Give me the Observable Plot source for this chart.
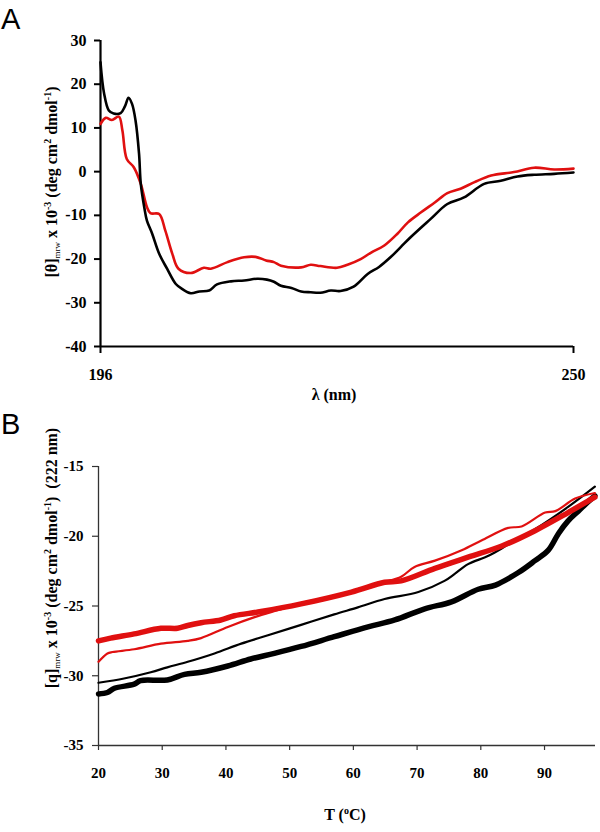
<!DOCTYPE html>
<html><head><meta charset="utf-8">
<script src="https://cdn.jsdelivr.net/npm/d3@7"></script>
<script src="https://cdn.jsdelivr.net/npm/@observablehq/plot@0.6"></script>
<style>
body{margin:0;background:#fff;}
#wrap{position:relative;width:600px;height:832px;overflow:hidden;background:#fff;}
.panel{position:absolute;left:0;}
.letter{position:absolute;font-family:"Liberation Sans",Arial,sans-serif;font-size:29px;line-height:1;color:#000;}
</style></head><body>
<div id="wrap">
  <div id="panelA" class="panel" style="top:0"></div>
  <div id="panelB" class="panel" style="top:415px"></div>
  <div class="letter" style="left:1px;top:5px">A</div>
  <div class="letter" style="left:1px;top:410px">B</div>
</div>
<script>
// ---------- Panel A: CD spectra ----------
const lambdaBlack = [196.0,196.4,196.95,197.5,198.3,198.8,199.2,199.6,200.0,200.4,200.6,201.0,201.3,201.9,202.7,203.6,204.6,205.3,206.3,207.3,208.4,209.3,210.9,212.4,213.9,215.0,215.8,216.6,217.8,218.9,220.0,221.1,222.3,223.4,224.9,226.5,227.8,229.1,230.3,231.4,233.7,235.6,237.5,239.8,241.7,243.6,245.5,247.8,250.0];
const thetaBlack  = [25,18,14,13.3,13.4,15,16.9,15.5,11.7,4.1,-2.8,-8.2,-11.2,-14.2,-18.8,-22.2,-25.7,-26.8,-27.8,-27.4,-27.2,-25.8,-25.1,-24.9,-24.5,-24.7,-25.2,-26.1,-26.6,-27.4,-27.6,-27.7,-27.2,-27.3,-26.3,-23.4,-21.8,-19.6,-17.2,-15.0,-10.8,-7.4,-5.9,-2.8,-2.1,-1.1,-0.7,-0.5,-0.2];
const lambdaRed = [196.0,196.6,197.3,198.1,198.5,199.0,199.8,200.6,201.3,201.7,202.7,203.4,204.2,204.9,206.3,207.8,208.6,210.5,212.4,213.7,214.9,215.8,216.6,218.9,220.0,221.1,223.0,224.2,225.7,226.9,228.4,229.9,231.1,232.6,234.2,235.6,237.1,238.7,240.6,243.2,245.5,247.8,250.0];
const thetaRed  = [10.9,12.3,11.8,12.6,9.4,2.9,1.0,-2.8,-8.1,-9.5,-9.7,-13.5,-18.8,-22.2,-23.2,-22.0,-22.2,-20.7,-19.6,-19.5,-20.3,-20.7,-21.5,-21.9,-21.3,-21.6,-22.0,-21.3,-20.0,-18.5,-16.9,-14.2,-11.6,-9.3,-7.0,-4.9,-3.9,-2.4,-0.9,-0.1,0.9,0.5,0.7];
const yTicksA = [-40,-30,-20,-10,0,10,20,30];
const xTicksA = [196,250];

// ---------- Panel B: thermal melts at 222 nm ----------
const tempThickRed = [20,21.9,25.6,29.8,32.4,34,36.1,39.2,41.3,45.5,51.8,59.7,64.9,67.5,72.8,78,83.3,88.5,93.7,97.9];
const valThickRed  = [-27.5,-27.3,-27.0,-26.6,-26.6,-26.4,-26.2,-26.0,-25.7,-25.4,-24.85,-24.0,-23.3,-23.2,-22.3,-21.5,-20.7,-19.6,-18.3,-17.2];
const tempThinRed = [20,21.4,22.2,25.6,29.8,34,36.1,40.3,44.5,48.1,51.8,59.7,64.9,67.5,69.6,72.8,77,80.1,84.3,86.4,90.1,91.7,94.8,97.9];
const valThinRed  = [-29.0,-28.4,-28.3,-28.1,-27.7,-27.5,-27.3,-26.5,-25.8,-25.3,-24.8,-24.0,-23.3,-22.9,-22.2,-21.75,-21.0,-20.3,-19.4,-19.3,-18.3,-18.2,-17.3,-16.9];
const tempThinBlack = [20,24,28.2,30.8,34,38.2,42.4,46.6,51.8,57,60.7,64.9,70.2,74.3,75.9,78,81.2,84.3,88.5,93.7,97.9];
const valThinBlack  = [-30.5,-30.2,-29.75,-29.4,-29.0,-28.4,-27.7,-27.1,-26.35,-25.6,-25.1,-24.5,-24.0,-23.2,-22.7,-22.0,-21.4,-20.6,-19.5,-17.9,-16.45];
const tempThickBlack = [20,21.4,22.5,25.6,26.6,30.8,33.5,36.1,40.3,43.9,47.6,51.8,57,62.3,66.5,71.2,75.4,79.6,82.3,85.9,88.5,90.6,92.2,93.7,95.3,96.9,97.9];
const valThickBlack  = [-31.3,-31.2,-30.9,-30.6,-30.35,-30.3,-29.9,-29.75,-29.3,-28.8,-28.4,-27.9,-27.2,-26.5,-26.0,-25.2,-24.7,-23.8,-23.5,-22.6,-21.75,-21.0,-19.8,-18.9,-18.2,-17.5,-17.1];
const yTicksB = [-35,-30,-25,-20,-15];
const xTicksB = [20,30,40,50,60,70,80,90];

const zip = (xs, ys) => xs.map((x, i) => ({x, y: ys[i]}));
const RED = "#e01010";
const SERIF = "'Liberation Serif', 'Times New Roman', 'DejaVu Serif', serif";

const chartA = Plot.plot({
  width: 600, height: 415,
  marginTop: 40, marginLeft: 100, marginRight: 27, marginBottom: 69,
  style: {background: "transparent", overflow: "visible", color: "#000"},
  x: {domain: [196, 250]},
  y: {domain: [-40, 30]},
  marks: [
    Plot.axisY({ticks: yTicksA, tickSize: 6, tickPadding: 8, strokeWidth: 2, tickFormat: d => String(d), label: null}),
    Plot.axisX({ticks: xTicksA, tickSize: 7, tickPadding: 15, strokeWidth: 2, tickFormat: d => String(d), label: null}),
    Plot.ruleX([196], {stroke: "#000", strokeWidth: 2.2}),
    Plot.ruleY([-40], {stroke: "#000", strokeWidth: 2.2}),
    Plot.line(zip(lambdaRed, thetaRed), {x: "x", y: "y", stroke: RED, strokeWidth: 2.6, curve: "catmull-rom"}),
    Plot.line(zip(lambdaBlack, thetaBlack), {x: "x", y: "y", stroke: "#000", strokeWidth: 2.6, curve: "catmull-rom"})
  ]
});
document.getElementById("panelA").appendChild(chartA);

const chartB = Plot.plot({
  width: 600, height: 417,
  marginTop: 51, marginLeft: 98, marginRight: 5, marginBottom: 87,
  style: {background: "transparent", overflow: "visible", color: "#000"},
  x: {domain: [20, 98]},
  y: {domain: [-35, -15]},
  marks: [
    Plot.axisY({ticks: yTicksB, tickSize: 6, tickPadding: 9, stroke: "#333", strokeWidth: 1.2, tickFormat: d => String(d), label: null}),
    Plot.axisX({ticks: xTicksB, tickSize: 5, tickPadding: 17, stroke: "#333", strokeWidth: 1.2, tickFormat: d => String(d), label: null}),
    Plot.ruleX([20], {stroke: "#333", strokeWidth: 1.3}),
    Plot.ruleY([-35], {stroke: "#333", strokeWidth: 1.3}),
    Plot.line(zip(tempThickBlack, valThickBlack), {x: "x", y: "y", stroke: "#000", strokeWidth: 5.5, curve: "catmull-rom"}),
    Plot.line(zip(tempThinBlack, valThinBlack), {x: "x", y: "y", stroke: "#000", strokeWidth: 2.2, curve: "catmull-rom"}),
    Plot.line(zip(tempThickRed, valThickRed), {x: "x", y: "y", stroke: RED, strokeWidth: 5.5, curve: "catmull-rom"}),
    Plot.line(zip(tempThinRed, valThinRed), {x: "x", y: "y", stroke: RED, strokeWidth: 2.2, curve: "catmull-rom"})
  ]
});
document.getElementById("panelB").appendChild(chartB);

// force serif bold on every tick label (inline style wins over Plot's class CSS)
function styleTicks(chart, size) {
  d3.select(chart).selectAll("text")
    .style("font-family", SERIF)
    .style("font-weight", "bold")
    .style("font-size", size + "px")
    .style("fill", "#000");
}
styleTicks(chartA, 16);
styleTicks(chartB, 15);

// ---------- axis titles with sub/superscripts ----------
function addParts(text, parts) {
  parts.forEach(([s, kind]) => {
    const ts = text.append("tspan").text(s);
    if (kind === "sub") ts.style("font-size", "9px").style("font-weight", "normal").attr("dy", "3");
    else if (kind === "sup") ts.style("font-size", "10px").attr("dy", "-6");
    else if (kind === "afterSub") ts.attr("dy", "-3");
    else if (kind === "afterSup") ts.attr("dy", "6");
  });
}
const titleText = (sel) => sel.style("font-family", SERIF).style("font-weight", "bold").style("font-size", "16px").style("fill", "#000");

const svgA = d3.select(chartA);
const yTitleA = titleText(svgA.append("text")
  .attr("transform", "translate(57,182) rotate(-90)").attr("text-anchor", "middle"));
addParts(yTitleA, [["[θ]", ""], ["mrw", "sub"], [" x 10", "afterSub"], ["-3", "sup"], [" (deg cm", "afterSup"], ["2", "sup"], [" dmol", "afterSup"], ["-1", "sup"], [")", "afterSup"]]);
titleText(svgA.append("text").attr("x", 334).attr("y", 400).attr("text-anchor", "middle")).text("λ (nm)");

const svgB = d3.select(chartB);
const yTitleB = titleText(svgB.append("text")
  .attr("transform", "translate(57,143) rotate(-90)").attr("text-anchor", "middle"));
addParts(yTitleB, [["[q]", ""], ["mrw", "sub"], [" x 10", "afterSub"], ["-3", "sup"], [" (deg cm", "afterSup"], ["2", "sup"], [" dmol", "afterSup"], ["-1", "sup"], [")  (222 nm)", "afterSup"]]);
const xTitleB = titleText(svgB.append("text").attr("x", 345).attr("y", 405).attr("text-anchor", "middle"));
addParts(xTitleB, [["T (", ""], ["o", "sup"], ["C)", "afterSup"]]);
</script>
</body></html>
